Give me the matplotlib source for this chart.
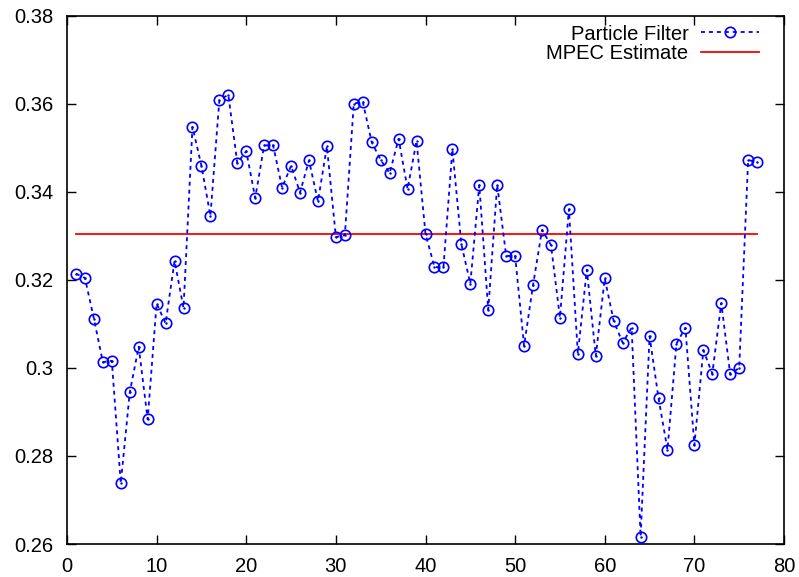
import matplotlib
matplotlib.use("Agg")
import matplotlib.pyplot as plt
from matplotlib.lines import Line2D

plt.rcParams['font.family'] = ['Liberation Sans', 'DejaVu Sans']

# Particle filter estimates at each period
periods = list(range(1, 78))
pf_values = [
    0.3214, 0.3204, 0.3112, 0.3013, 0.3016, 0.2738, 0.2944, 0.3048, 0.2883, 0.3146,
    0.3101, 0.3243, 0.3136, 0.3547, 0.3459, 0.3345, 0.3608, 0.3620, 0.3465, 0.3492,
    0.3386, 0.3505, 0.3505, 0.3409, 0.3459, 0.3398, 0.3471, 0.3378, 0.3503, 0.3297,
    0.3301, 0.3600, 0.3604, 0.3512, 0.3472, 0.3442, 0.3520, 0.3406, 0.3515, 0.3304,
    0.3229, 0.3228, 0.3496, 0.3281, 0.3191, 0.3415, 0.3132, 0.3416, 0.3254, 0.3254,
    0.3050, 0.3188, 0.3313, 0.3279, 0.3114, 0.3360, 0.3032, 0.3223, 0.3027, 0.3203,
    0.3106, 0.3057, 0.3091, 0.2617, 0.3072, 0.2931, 0.2814, 0.3055, 0.3091, 0.2824,
    0.3040, 0.2987, 0.3147, 0.2985, 0.3000, 0.3472, 0.3467,
]
mpec_value = 0.3304
mpec_range = [1, 77]

x_ticks = [0, 10, 20, 30, 40, 50, 60, 70, 80]
y_ticks = [0.26, 0.28, 0.30, 0.32, 0.34, 0.36, 0.38]
y_tick_labels = ['0.26', '0.28', '0.3', '0.32', '0.34', '0.36', '0.38']

fig = plt.figure(figsize=(7.99, 5.77), dpi=100)
ax = fig.add_axes([67 / 799, 33 / 577, 717 / 799, 528.5 / 577])

blue = '#0000ff'
ax.plot(periods, pf_values, color=blue, linestyle=(0, (2.2, 2.2)), linewidth=1.3,
        marker='o', markersize=7.5, markerfacecolor='none', markeredgecolor=blue,
        markeredgewidth=1.2, zorder=3)
ax.plot(periods, pf_values, linestyle='none', marker='.', markersize=1.5,
        color=blue, zorder=4)
ax.plot(mpec_range, [mpec_value, mpec_value], color='#ff0000', linewidth=1.3, zorder=2)

ax.set_xlim(0, 80)
ax.set_ylim(0.26, 0.38)
ax.set_xticks(x_ticks)
ax.set_xticklabels([str(t) for t in x_ticks])
ax.set_yticks(y_ticks)
ax.set_yticklabels(y_tick_labels)
ax.tick_params(direction='in', length=6.5, width=1, top=True, right=True,
               labelsize=14.5, colors='black')
ax.tick_params(axis='x', pad=9)
ax.tick_params(axis='y', pad=10)
for s in ax.spines.values():
    s.set_linewidth(1.2)

handles = [
    Line2D([], [], color=blue, linestyle=(0, (2.2, 2.2)), linewidth=1.3,
           marker='o', markersize=7.5, markerfacecolor='none',
           markeredgecolor=blue, markeredgewidth=1.2),
    Line2D([], [], color='#ff0000', linewidth=1.3),
]
leg = ax.legend(handles, ['Particle Filter', 'MPEC Estimate'], loc='upper right',
                bbox_to_anchor=(1 - 25 / 717, 1 - 9 / 528.5),
                frameon=False, markerfirst=False, fontsize=14.5, handlelength=2.9,
                handletextpad=0.6, labelspacing=0.02, borderaxespad=0,
                borderpad=0, numpoints=1)
for t in leg.get_texts():
    t.set_ha('right')
    t.set_position((0, 0))

fig.savefig('out.png', dpi=100)
